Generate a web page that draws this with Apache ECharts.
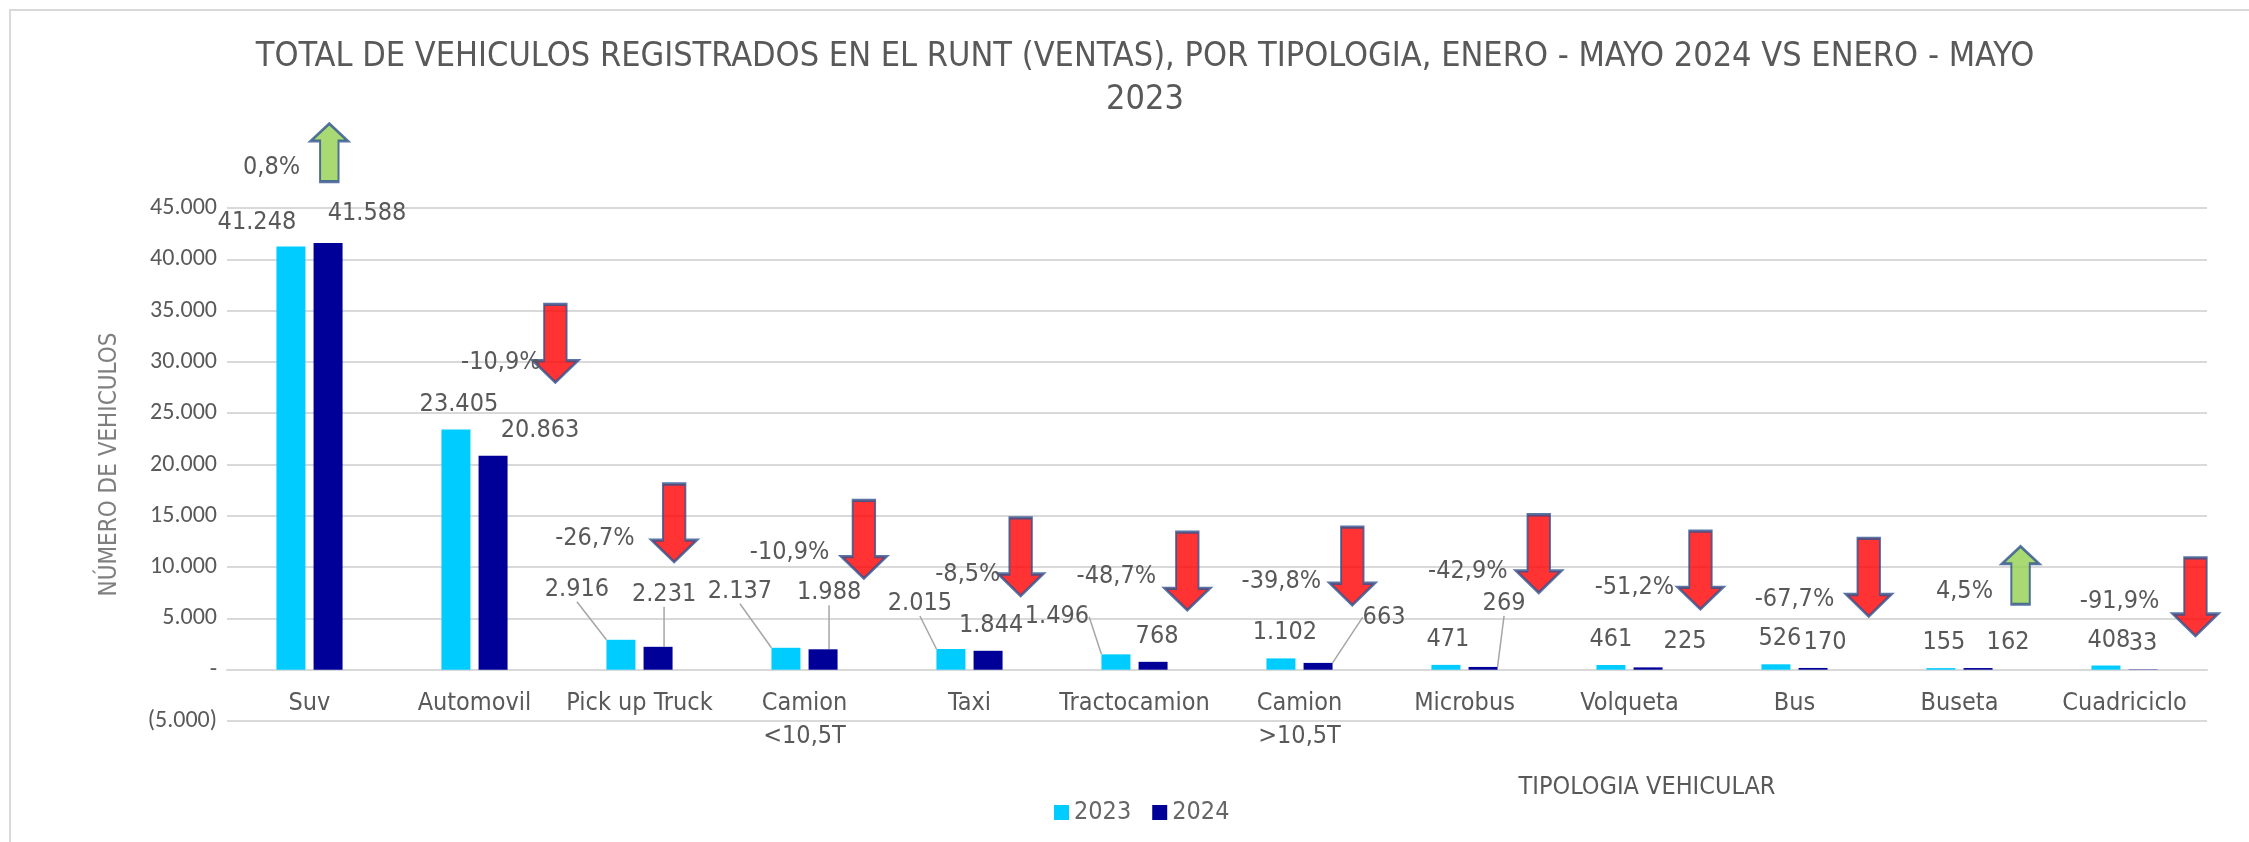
<!DOCTYPE html>
<html>
<head>
<meta charset="utf-8">
<title>Vehiculos registrados RUNT</title>
<script src="https://cdn.jsdelivr.net/npm/echarts@6/dist/echarts.min.js"></script>
<style>
  html, body { margin: 0; padding: 0; background: #fff; }
  #chart { width: 2249px; height: 842px; }
</style>
</head>
<body>
<div id="chart"></div>
<script>
// ===== datos =====
const categorias = ['Suv', 'Automovil', 'Pick up Truck', 'Camion\n<10,5T', 'Taxi', 'Tractocamion',
  'Camion\n>10,5T', 'Microbus', 'Volqueta', 'Bus', 'Buseta', 'Cuadriciclo'];
const ventas2023 = [41248, 23405, 2916, 2137, 2015, 1496, 1102, 471, 461, 526, 155, 408];
const ventas2024 = [41588, 20863, 2231, 1988, 1844, 768, 663, 269, 225, 170, 162, 33];
const variacion = ['0,8%', '-10,9%', '-26,7%', '-10,9%', '-8,5%', '-48,7%', '-39,8%', '-42,9%',
  '-51,2%', '-67,7%', '4,5%', '-91,9%'];
const ejeY = { min: -5000, max: 45000, step: 5000 };

// flechas y textos de variación (coordenadas de datos: índice de categoría, vehículos)
const flechaX = [0.12, 1.49, 2.21, 3.36, 4.31, 5.32, 6.32, 7.45, 8.43, 9.45, 10.37, 11.43];
const flechaY = [50400, 31800, 14300, 12700, 11000, 9600, 10100, 11300, 9700, 9000, 9200, 7100];
const textoX = [-0.23, 1.16, 1.73, 2.91, 3.99, 4.89, 5.89, 7.02, 8.03, 9.0, 10.03, 10.97];
const textoY = [48900, 29900, 12760, 11400, 9250, 9060, 8570, 9550, 7990, 6820, 7600, 6620];

// ===== estilo =====
const FUENTE = "'Liberation Sans Narrow', 'DejaVu Sans Condensed', 'Roboto Condensed', sans-serif";
const FUENTE_Y = "Carlito, Lato, 'Open Sans', sans-serif";
const GRIS = '#595959';
const GRID = { left: 227, right: 42, top: 208, bottom: 121 };

// desplazamiento manual de etiquetas (px) y cuáles llevan línea guía
const desp2023 = [[-34, 2], [3, 0], [-44, -25], [-46, -31], [-31, -20], [-59, -12], [4, 0], [2, 0], [0, 0], [4, 0], [3, 0], [3, 0]];
const desp2024 = [[39, -4], [47, 0], [6, -27], [6, -31], [3, 0], [4, 0], [66, -20], [21, -38], [37, 0], [12, 0], [30, 0], [0, 0]];
const guia2023 = [2, 3, 4, 5];
const guia2024 = [2, 3, 6, 7];

const FLECHA_ABAJO = 'path://M25,0 L75,0 L75,72 L100,72 L50,100 L0,72 L25,72 Z';
const FLECHA_ARRIBA = 'path://M25,100 L75,100 L75,30 L100,30 L50,0 L0,30 L25,30 Z';

function miles(v) {
  return String(v).replace(/\B(?=(\d{3})+(?!\d))/g, '.');
}

function barData(valores, guias) {
  return valores.map((v, i) => ({
    value: v,
    labelLine: { show: guias.indexOf(i) >= 0 }
  }));
}

function barSeries(nombre, valores, color, desp, guias) {
  return {
    name: nombre,
    type: 'bar',
    barWidth: 29,
    barGap: '28%',
    itemStyle: { color },
    data: barData(valores, guias),
    label: {
      show: true,
      position: 'top',
      distance: 13,
      fontFamily: FUENTE,
      fontSize: 25,
      color: GRIS,
      formatter: p => miles(p.value)
    },
    labelLine: { lineStyle: { color: '#A6A6A6', width: 1.5 } },
    labelLayout: p => ({ dx: desp[p.dataIndex][0], dy: desp[p.dataIndex][1] })
  };
}

const chart = echarts.init(document.getElementById('chart'), null, { renderer: 'canvas' });

const flechas = variacion.map((t, i) => {
  const sube = t.charAt(0) !== '-';
  return {
    value: [flechaX[i], flechaY[i]],
    symbol: sube ? FLECHA_ARRIBA : FLECHA_ABAJO,
    symbolSize: sube ? [37, 58] : [45, 78],
    itemStyle: { color: sube ? '#92D050' : '#FF0000' }
  };
});

const textos = variacion.map((t, i) => ({ value: [textoX[i], textoY[i]], name: t }));

// el eje de categorías va sobre el cero (Excel), se sube desde el borde inferior
const alturaPlot = 842 - GRID.top - GRID.bottom;
const subirEje = alturaPlot * (0 - ejeY.min) / (ejeY.max - ejeY.min);

const option = {
  backgroundColor: '#fff',
  animation: false,
  title: [{
    text: 'TOTAL DE VEHICULOS REGISTRADOS EN EL RUNT (VENTAS), POR TIPOLOGIA, ENERO - MAYO 2024 VS ENERO - MAYO\n2023',
    left: 1140,
    top: 31,
    textAlign: 'center',
    textStyle: { fontFamily: FUENTE, fontSize: 34, lineHeight: 43, fontWeight: 'normal', color: GRIS }
  }, {
    text: 'TIPOLOGIA VEHICULAR',
    left: 1642,
    top: 770,
    textAlign: 'center',
    textStyle: { fontFamily: FUENTE, fontSize: 25, fontWeight: 'normal', color: GRIS }
  }],
  legend: {
    left: 1049,
    top: 795,
    itemWidth: 15,
    itemHeight: 15,
    itemGap: 21,
    icon: 'rect',
    data: ['2023', '2024'],
    textStyle: { fontFamily: FUENTE, fontSize: 25, color: '#666' }
  },
  grid: GRID,
  xAxis: [{
    type: 'category',
    position: 'bottom',
    offset: -subirEje,
    data: categorias,
    axisLine: { onZero: false, lineStyle: { color: '#D9D9D9', width: 2 } },
    axisTick: { show: false },
    axisLabel: {
      interval: 0,
      margin: 17,
      fontFamily: FUENTE,
      fontSize: 25,
      lineHeight: 33,
      color: GRIS
    }
  }, {
    type: 'value',
    position: 'top',
    min: -0.5,
    max: 11.5,
    show: false
  }],
  yAxis: {
    type: 'value',
    min: ejeY.min,
    max: ejeY.max,
    interval: ejeY.step,
    name: 'NÚMERO DE VEHICULOS',
    nameLocation: 'middle',
    nameGap: 105,
    nameTextStyle: { fontFamily: FUENTE, fontSize: 24, color: '#7F7F7F' },
    axisLine: { show: false },
    axisTick: { show: false },
    splitLine: { lineStyle: { color: '#D9D9D9', width: 2 } },
    axisLabel: {
      margin: 10,
      fontFamily: FUENTE_Y,
      fontSize: 24,
      color: GRIS,
      formatter: v => v === 0 ? '-' : (v < 0 ? '(' + miles(-v) + ')' : miles(v))
    }
  },
  series: [
    barSeries('2023', ventas2023, '#00CCFF', desp2023, guia2023),
    barSeries('2024', ventas2024, '#000099', desp2024, guia2024),
    {
      name: 'flechas',
      type: 'scatter',
      xAxisIndex: 1,
      clip: false,
      symbolKeepAspect: false,
      silent: true,
      itemStyle: { borderColor: '#2F528F', borderWidth: 2.5 },
      data: flechas
    },
    {
      name: 'variacion',
      type: 'scatter',
      xAxisIndex: 1,
      clip: false,
      silent: true,
      symbolSize: 0.1,
      itemStyle: { color: '#fff' },
      label: {
        show: true,
        position: 'inside',
        fontFamily: FUENTE,
        fontSize: 25,
        color: GRIS,
        textBorderWidth: 0,
        opacity: 1,
        formatter: p => p.name
      },
      data: textos
    }
  ],
  graphic: [{
    type: 'rect',
    silent: true,
    shape: { x: 10, y: 10, width: 2300, height: 900 },
    style: { fill: null, stroke: '#D9D9D9', lineWidth: 2 }
  }]
};

chart.setOption(option);
</script>
</body>
</html>
